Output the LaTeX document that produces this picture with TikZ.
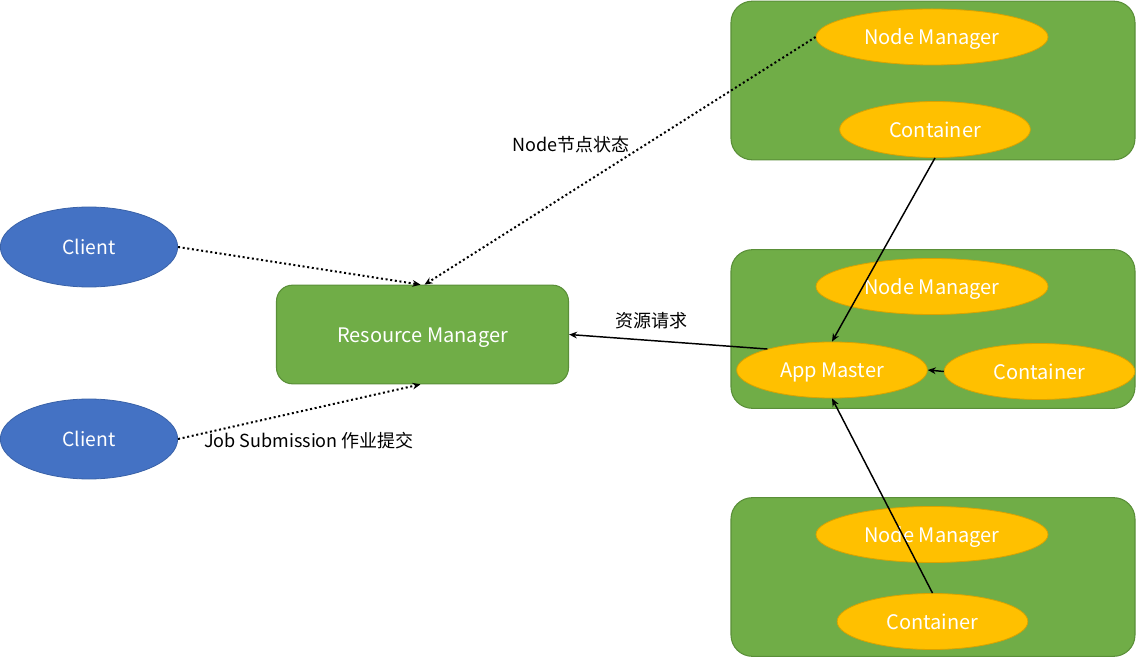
\documentclass[tikz,border=0pt]{standalone}
\usepackage{fontspec}
\setmainfont{Noto Sans CJK SC}
\usetikzlibrary{shapes.geometric,arrows.meta}
\definecolor{boxgreen}{HTML}{70AD47}
\definecolor{boxgreenline}{HTML}{5A8F38}
\definecolor{ellorange}{HTML}{FFC000}
\definecolor{ellorangeline}{HTML}{D9A300}
\definecolor{cliblue}{HTML}{4472C4}
\definecolor{clibline}{HTML}{3A62A8}
\tikzset{
  hostbox/.style={draw=boxgreenline, fill=boxgreen, rounded corners=16pt, line width=0.8pt,
    minimum width=303pt, minimum height=119pt, inner sep=0pt},
  rmbox/.style={draw=boxgreenline, fill=boxgreen, rounded corners=12pt, line width=0.8pt,
    minimum width=219pt, minimum height=74pt, inner sep=0pt, text=white,
    font=\fontsize{15}{18}\selectfont, text height=1.4em, text depth=0.25em},
  nmell/.style={ellipse, draw=ellorangeline, fill=ellorange, line width=0.6pt, inner sep=0pt,
    minimum width=174pt, minimum height=42pt, text=white,
    font=\fontsize{15}{18}\selectfont, text height=1.4em, text depth=0.25em},
  ctell/.style={nmell, minimum width=143pt, minimum height=42pt},
  clell/.style={ellipse, draw=clibline, fill=cliblue, line width=0.6pt, inner sep=0pt,
    minimum width=133pt, minimum height=60pt, text=white,
    font=\fontsize{14.5}{17}\selectfont, text height=1.4em, text depth=0.25em},
  dotarrow/.style={dotted, line width=1.5pt, -{Stealth[length=6pt,width=5pt]}},
  solarrow/.style={line width=1.1pt, -{Stealth[length=6pt,width=5pt]}},
  lbl/.style={font=\fontsize{13.5}{16}\selectfont, text=black, inner sep=0pt}
}
\begin{document}
\begin{tikzpicture}[x=0.75pt,y=-0.75pt]
\useasboundingbox (0,0) rectangle (1136,659);
% host boxes
\node[hostbox] (h1) at (933,80.5) {};
\node[hostbox] (h2) at (933,329) {};
\node[hostbox] (h3) at (933,577) {};
% resource manager
\node[rmbox] (rm) at (422.5,334.5) {Resource Manager};
% clients
\node[clell] (c1) at (89,247) {Client};
\node[clell] (c2) at (89,439) {Client};
% ellipses in host 1
\node[nmell] (nm1) at (932,37) {Node Manager};
\node[ctell] (ct1) at (935,129.5) {Container};
% host 2
\node[nmell] (nm2) at (932,286.5) {Node Manager};
\node[ctell] (am) at (832,370) {App Master};
\node[ctell] (ct2) at (1039.5,371.5) {Container};
% host 3
\node[nmell] (nm3) at (932,534.5) {Node Manager};
\node[ctell] (ct3) at (932.5,621.5) {Container};
% connectors
\draw[dotarrow] (c1.east) -- ([xshift=-1.5pt]rm.north);
\draw[dotarrow] (nm1.west) -- ([xshift=1.5pt]rm.north);
\draw[dotarrow] (c2.east) -- ([xshift=-1.5pt]rm.south);
\draw[solarrow] (ct1.south) -- (am.north);
\draw[solarrow] (am.162) -- (rm.east);
\draw[solarrow] (ct2.west) -- (am.east);
\draw[solarrow] (ct3.north) -- (am.south);
% labels
\node[lbl] (l1) at (571,145) {Node节点状态};
\node[lbl] (l2) at (651,321) {资源请求};
\node[lbl] (l3) at (309,441) {Job Submission 作业提交};
\end{tikzpicture}
\end{document}
